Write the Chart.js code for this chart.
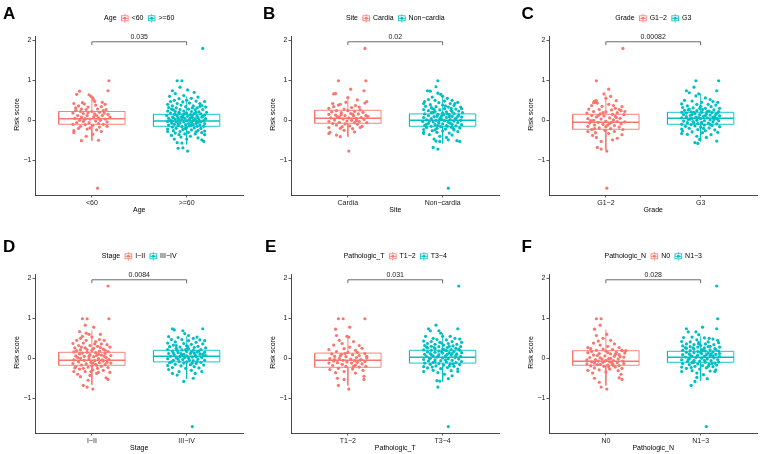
<!DOCTYPE html>
<html><head><meta charset="utf-8">
<script src="https://cdn.jsdelivr.net/npm/chart.js@4/dist/chart.umd.min.js"></script>
<style>
html,body{margin:0;padding:0;background:#fff;overflow:hidden;width:760px;height:454px;position:relative}
canvas{position:absolute}
</style></head><body>
<script>
// ---------------- DATA ----------------
// each point: [horizontal jitter within its group, risk score]
const yTicks = [-1, 0, 1, 2];

const ageCategories = ['<60', '>=60'];
const agePValue = '0.035';
const ageLow = [[0.18,0.99],[0.17,0.74],[-0.13,0.73],[-0.16,0.65],[-0.03,0.64],[0.01,0.56],[-0.01,0.6],[0.02,0.51],[-0.19,0.42],[0.11,0.45],[-0.08,0.41],[-0.1,0.44],[0.1,0.34],[-0.14,0.36],[0.04,0.38],[-0.04,0.33],[0.15,0.27],[-0.17,0.25],[-0.06,0.27],[0.06,0.28],[0.12,0.24],[-0.12,0.22],[0.0,0.22],[0.08,0.2],[-0.2,0.18],[-0.09,0.17],[0.03,0.16],[0.17,0.15],[-0.15,0.12],[-0.05,0.12],[0.11,0.12],[0.19,0.08],[-0.11,0.08],[0.02,0.09],[0.07,0.06],[-0.18,0.05],[-0.07,0.04],[0.14,0.03],[-0.02,0.03],[0.09,0.0],[-0.13,0.0],[0.04,-0.02],[-0.09,-0.03],[0.16,-0.04],[-0.16,-0.06],[-0.03,-0.06],[0.07,-0.08],[0.12,-0.1],[-0.2,-0.1],[-0.07,-0.11],[0.01,-0.13],[-0.12,-0.15],[0.08,-0.17],[-0.02,-0.19],[-0.19,-0.26],[-0.19,-0.31],[0.1,-0.28],[-0.05,-0.22],[0.05,-0.24],[-0.14,-0.2],[-0.11,-0.51],[0.07,-0.5],[0.01,-0.35],[-0.06,-0.4],[0.06,-1.7],[0.13,0.18],[-0.04,0.19],[0.05,0.12],[-0.17,0.31],[0.14,0.4],[-0.08,0.02],[0.16,-0.15],[0.03,0.47],[-0.11,0.28]];
const ageHigh = [[0.17,1.8],[-0.1,0.99],[-0.05,0.99],[-0.07,0.83],[0.01,0.76],[-0.15,0.74],[0.08,0.7],[-0.12,0.67],[-0.03,0.62],[0.12,0.58],[-0.18,0.6],[0.05,0.55],[-0.08,0.54],[0.19,0.47],[0.16,0.37],[-0.17,0.47],[0.0,0.5],[-0.13,0.5],[0.1,0.48],[-0.04,0.46],[-0.2,0.4],[-0.1,0.42],[0.03,0.43],[0.14,0.42],[-0.15,0.36],[-0.06,0.38],[0.07,0.36],[0.2,0.33],[-0.01,0.34],[-0.19,0.32],[0.11,0.31],[-0.11,0.31],[-0.16,0.28],[-0.07,0.27],[0.02,0.28],[0.09,0.26],[0.17,0.27],[-0.2,0.23],[-0.12,0.22],[-0.03,0.23],[0.05,0.22],[0.13,0.21],[0.21,0.2],[-0.17,0.18],[-0.08,0.17],[0.0,0.18],[0.08,0.17],[0.15,0.16],[-0.13,0.15],[-0.04,0.14],[0.04,0.14],[0.19,0.13],[-0.21,0.12],[-0.1,0.11],[0.01,0.1],[0.11,0.11],[-0.15,0.08],[-0.06,0.08],[0.06,0.07],[0.16,0.08],[-0.19,0.05],[-0.02,0.05],[0.09,0.04],[0.2,0.04],[-0.12,0.03],[0.03,0.02],[0.13,0.01],[-0.17,0.0],[-0.08,0.0],[0.0,-0.01],[0.07,0.0],[0.18,-0.01],[-0.14,0.06],[0.12,0.06],[-0.04,0.09],[-0.2,-0.03],[-0.11,-0.04],[-0.03,-0.04],[0.05,-0.05],[0.15,-0.04],[-0.16,-0.07],[-0.07,-0.07],[0.02,-0.08],[0.1,-0.08],[0.19,-0.08],[-0.13,-0.1],[-0.01,-0.11],[0.07,-0.11],[0.14,-0.12],[-0.19,-0.12],[-0.09,-0.13],[0.03,-0.14],[0.11,-0.15],[-0.05,-0.16],[0.18,-0.15],[-0.15,-0.17],[0.0,-0.18],[0.08,-0.19],[-0.11,-0.2],[0.15,-0.2],[-0.2,-0.22],[-0.04,-0.23],[0.05,-0.24],[0.12,-0.25],[-0.14,-0.26],[-0.2,-0.28],[0.19,-0.27],[-0.07,-0.28],[0.02,-0.3],[0.16,-0.31],[-0.12,-0.32],[-0.02,-0.34],[0.09,-0.34],[0.19,-0.36],[-0.16,-0.38],[0.04,-0.4],[-0.06,-0.42],[0.12,-0.44],[0.16,-0.49],[0.18,-0.53],[-0.1,-0.56],[-0.05,-0.57],[-0.09,-0.7],[-0.04,-0.69],[0.01,-0.77],[0.0,-0.47],[-0.13,-0.47],[-0.08,0.2],[0.1,0.2],[-0.02,0.16],[0.06,0.12],[-0.12,0.15],[0.17,0.1],[-0.09,0.05],[0.04,0.06],[-0.05,0.02],[0.1,-0.02],[-0.15,-0.02],[0.12,-0.06],[-0.09,-0.09],[0.05,-0.12],[-0.02,-0.21],[0.1,-0.29],[-0.08,-0.36],[0.14,0.35],[-0.14,0.26],[0.06,0.31]];
// box statistics: [lower whisker, Q1, median, Q3, upper whisker]
const ageLowBox = [-0.51, -0.10, 0.04, 0.22, 0.59];
const ageHighBox = [-0.60, -0.15, -0.02, 0.15, 0.60];

const siteCategories = ['Cardia', 'Non\u2212cardia'];
const sitePValue = '0.02';
const siteCardia = [[0.18,1.8],[-0.1,0.99],[0.19,0.99],[0.17,0.74],[0.03,0.78],[-0.13,0.67],[-0.15,0.66],[0.0,0.57],[0.1,0.51],[0.2,0.47],[0.18,0.43],[-0.08,0.4],[-0.1,0.38],[-0.15,0.34],[0.08,0.37],[-0.2,0.3],[0.04,0.32],[-0.04,0.28],[0.13,0.26],[-0.12,0.24],[0.0,0.24],[0.07,0.22],[-0.17,0.21],[0.16,0.2],[-0.07,0.19],[0.03,0.17],[0.11,0.16],[-0.2,0.15],[-0.13,0.13],[0.19,0.12],[-0.03,0.12],[0.06,0.11],[-0.09,0.08],[0.14,0.07],[0.01,0.06],[-0.18,0.06],[0.09,0.04],[-0.05,0.03],[0.17,0.02],[-0.14,0.01],[0.04,0.0],[-0.01,-0.02],[0.12,-0.03],[-0.2,-0.03],[-0.09,-0.05],[0.07,-0.06],[0.2,-0.06],[-0.16,-0.08],[-0.03,-0.09],[0.1,-0.1],[-0.12,-0.12],[0.02,-0.14],[0.15,-0.15],[-0.06,-0.16],[0.13,-0.18],[-0.2,-0.18],[-0.08,-0.2],[0.05,-0.21],[-0.19,-0.3],[-0.2,-0.33],[-0.12,-0.37],[-0.08,-0.41],[-0.04,-0.25],[0.07,-0.29],[0.01,-0.77],[-0.11,0.09],[0.05,0.15],[-0.02,0.45],[0.12,0.33],[-0.16,0.42],[0.09,-0.01],[-0.07,0.14],[0.21,0.1]];
const siteNonCardia = [[-0.05,0.99],[-0.07,0.84],[-0.16,0.74],[-0.13,0.73],[-0.05,0.68],[-0.02,0.65],[0.0,0.6],[0.05,0.55],[-0.11,0.58],[-0.19,0.47],[0.13,0.42],[0.19,0.33],[0.1,0.5],[-0.15,0.52],[-0.08,0.5],[0.02,0.48],[0.16,0.45],[-0.2,0.42],[-0.04,0.44],[0.08,0.42],[-0.13,0.39],[0.0,0.38],[0.12,0.37],[-0.18,0.35],[-0.07,0.34],[0.06,0.33],[0.2,0.29],[-0.11,0.3],[0.02,0.29],[0.14,0.28],[-0.2,0.27],[-0.03,0.26],[0.09,0.25],[-0.15,0.24],[0.17,0.23],[-0.08,0.22],[0.04,0.21],[0.21,0.19],[-0.12,0.19],[0.0,0.18],[0.12,0.17],[-0.19,0.16],[-0.05,0.15],[0.07,0.14],[0.17,0.13],[-0.15,0.12],[-0.01,0.11],[0.1,0.1],[-0.09,0.09],[0.2,0.08],[-0.2,0.07],[0.04,0.07],[0.14,0.05],[-0.12,0.04],[-0.03,0.04],[0.08,0.02],[-0.17,0.01],[0.19,0.0],[-0.07,0.0],[0.02,-0.01],[0.12,-0.02],[-0.21,-0.03],[-0.1,-0.04],[0.06,-0.05],[0.16,-0.06],[-0.04,-0.07],[-0.15,-0.08],[0.0,-0.09],[0.1,-0.1],[0.2,-0.11],[-0.08,-0.11],[-0.19,-0.13],[0.04,-0.13],[0.14,-0.14],[-0.12,-0.15],[-0.02,-0.16],[0.09,-0.17],[-0.17,-0.18],[0.18,-0.19],[-0.06,-0.2],[0.03,-0.22],[-0.2,-0.23],[0.12,-0.24],[-0.11,-0.26],[0.0,-0.27],[0.16,-0.28],[-0.2,-0.3],[-0.06,-0.3],[0.07,-0.32],[-0.2,-0.33],[-0.14,-0.36],[0.1,-0.37],[-0.03,-0.4],[0.04,-0.43],[-0.1,-0.68],[-0.05,-0.72],[-0.03,-0.53],[-0.07,-0.52],[0.06,-0.49],[0.15,-0.51],[0.18,-0.53],[-0.09,-0.47],[0.06,-1.7],[-0.06,0.1],[0.05,0.16],[-0.1,0.2],[0.1,0.22],[-0.02,0.06],[0.07,0.09],[-0.14,-0.02],[0.13,0.03],[-0.05,-0.13],[0.08,-0.07],[-0.09,0.27],[0.03,0.36],[-0.17,-0.1],[0.11,-0.2],[-0.01,0.02],[0.16,0.1],[-0.08,-0.24],[0.01,0.14],[-0.12,0.32],[0.09,0.3],[-0.04,-0.04],[0.05,-0.15]];
const siteCardiaBox = [-0.41, -0.075, 0.05, 0.25, 0.60];
const siteNonCardiaBox = [-0.58, -0.15, 0.0, 0.16, 0.60];

const gradeCategories = ['G1\u22122', 'G3'];
const gradePValue = '0.00082';
const gradeLow = [[0.18,1.8],[0.01,-1.7],[-0.1,0.99],[0.03,0.78],[-0.02,0.66],[-0.12,0.48],[-0.11,0.45],[-0.1,0.49],[-0.09,0.43],[-0.13,0.44],[0.11,0.49],[0.17,0.34],[0.0,0.55],[0.05,0.6],[-0.15,0.37],[0.03,0.4],[-0.04,0.35],[0.1,0.3],[-0.18,0.28],[-0.07,0.27],[0.06,0.26],[0.16,0.24],[-0.13,0.22],[0.0,0.21],[0.12,0.19],[-0.2,0.18],[-0.06,0.16],[0.07,0.15],[0.19,0.14],[-0.15,0.12],[-0.02,0.11],[0.1,0.1],[-0.1,0.08],[0.04,0.06],[0.15,0.05],[-0.19,0.04],[-0.05,0.03],[0.08,0.01],[-0.13,0.0],[0.0,-0.02],[0.12,-0.03],[0.2,-0.04],[-0.08,-0.05],[-0.17,-0.07],[0.04,-0.08],[0.16,-0.09],[-0.03,-0.1],[-0.12,-0.12],[0.09,-0.13],[-0.19,-0.15],[0.0,-0.16],[0.14,-0.17],[-0.07,-0.19],[0.05,-0.21],[-0.15,-0.23],[0.18,-0.23],[-0.01,-0.25],[-0.19,-0.28],[0.09,-0.28],[-0.11,-0.31],[0.03,-0.33],[0.17,-0.36],[-0.14,-0.38],[0.12,-0.45],[0.07,-0.49],[-0.05,-0.53],[-0.09,-0.68],[-0.05,-0.72],[0.01,-0.77],[-0.1,-0.43],[0.11,0.07],[-0.03,0.19],[0.06,-0.05],[-0.16,-0.01],[0.14,0.27],[-0.08,0.12],[0.02,-0.12],[0.2,0.22],[-0.12,-0.21],[0.08,0.37]];
const gradeHigh = [[-0.05,0.99],[0.19,0.99],[0.17,0.74],[-0.15,0.74],[-0.12,0.69],[-0.07,0.83],[-0.02,0.66],[-0.05,0.61],[0.1,0.52],[0.18,0.45],[0.05,0.56],[-0.17,0.5],[-0.09,0.48],[0.13,0.47],[0.01,0.45],[-0.2,0.41],[-0.04,0.4],[0.08,0.4],[0.16,0.38],[-0.14,0.36],[0.0,0.35],[0.11,0.34],[-0.19,0.32],[-0.08,0.31],[0.05,0.3],[0.2,0.3],[-0.12,0.28],[0.02,0.27],[0.14,0.26],[-0.17,0.25],[-0.04,0.24],[0.09,0.23],[0.19,0.22],[-0.1,0.21],[-0.2,0.2],[0.01,0.2],[0.12,0.19],[-0.15,0.18],[-0.06,0.17],[0.06,0.16],[0.16,0.15],[-0.18,0.14],[-0.01,0.14],[0.1,0.13],[-0.11,0.12],[0.2,0.11],[0.03,0.1],[-0.15,0.09],[-0.05,0.08],[0.13,0.08],[0.07,0.06],[-0.2,0.06],[-0.09,0.05],[0.17,0.04],[0.0,0.04],[-0.13,0.02],[0.1,0.01],[-0.04,0.0],[0.04,-0.01],[0.19,-0.01],[-0.18,-0.02],[-0.08,-0.03],[0.13,-0.04],[0.01,-0.05],[-0.14,-0.06],[0.08,-0.07],[-0.03,-0.08],[0.17,-0.09],[-0.2,-0.1],[-0.1,-0.11],[0.04,-0.12],[0.12,-0.13],[-0.06,-0.14],[-0.16,-0.15],[0.2,-0.16],[0.0,-0.17],[0.09,-0.19],[-0.12,-0.2],[-0.2,-0.22],[-0.03,-0.23],[0.15,-0.24],[0.05,-0.26],[-0.19,-0.27],[-0.09,-0.29],[0.18,-0.3],[0.02,-0.31],[-0.2,-0.33],[-0.14,-0.35],[0.11,-0.36],[-0.04,-0.4],[0.06,-0.43],[0.17,-0.52],[-0.06,-0.56],[-0.03,-0.58],[-0.01,-0.48],[-0.07,0.2],[0.07,0.22],[-0.02,0.07],[0.05,0.12],[-0.11,0.03],[0.15,0.09],[-0.07,-0.07],[0.1,-0.1],[-0.01,0.3],[0.03,-0.2],[-0.13,0.26],[0.14,0.02],[-0.09,0.14],[0.01,-0.08],[0.18,0.18]];
const gradeLowBox = [-0.74, -0.225, -0.05, 0.15, 0.63];
const gradeHighBox = [-0.53, -0.10, 0.05, 0.20, 0.67];

const stageCategories = ['I\u2212II', 'III\u2212IV'];
const stagePValue = '0.0084';
const stageEarly = [[0.17,1.81],[-0.1,0.99],[-0.05,0.99],[0.18,0.99],[0.02,0.78],[-0.07,0.83],[-0.13,0.67],[-0.1,0.55],[-0.03,0.6],[0.0,0.53],[-0.12,0.5],[-0.16,0.45],[0.08,0.47],[0.13,0.45],[-0.06,0.45],[0.04,0.42],[-0.2,0.37],[-0.09,0.38],[0.1,0.36],[0.16,0.34],[-0.14,0.32],[-0.02,0.32],[0.06,0.3],[0.19,0.28],[-0.18,0.26],[-0.07,0.26],[0.02,0.25],[0.12,0.23],[-0.12,0.21],[0.0,0.2],[0.08,0.18],[0.17,0.17],[-0.19,0.16],[-0.05,0.15],[0.04,0.14],[0.14,0.12],[-0.13,0.11],[-0.02,0.09],[0.1,0.08],[0.2,0.07],[-0.17,0.06],[-0.08,0.05],[0.02,0.04],[0.15,0.02],[-0.12,0.0],[0.07,-0.01],[-0.03,-0.02],[0.18,-0.03],[-0.19,-0.04],[-0.08,-0.05],[0.03,-0.06],[0.12,-0.07],[-0.14,-0.09],[-0.01,-0.1],[0.08,-0.11],[0.2,-0.12],[-0.2,-0.13],[-0.06,-0.14],[0.04,-0.15],[0.14,-0.16],[-0.11,-0.17],[0.0,-0.19],[0.1,-0.2],[-0.17,-0.21],[-0.04,-0.22],[0.17,-0.23],[0.06,-0.25],[-0.13,-0.27],[-0.19,-0.33],[0.01,-0.29],[0.12,-0.3],[-0.07,-0.33],[0.19,-0.35],[-0.15,-0.4],[0.05,-0.38],[-0.02,-0.43],[0.15,-0.49],[0.17,-0.53],[-0.12,-0.46],[-0.09,-0.68],[-0.05,-0.72],[0.01,-0.77],[-0.04,-0.55],[0.07,0.1],[-0.1,0.13],[0.11,-0.04],[-0.05,0.22],[0.05,-0.18],[-0.15,0.02],[0.14,0.2],[-0.09,-0.25],[0.03,0.36],[-0.11,0.28],[0.09,0.27],[-0.03,0.05],[0.01,-0.12],[0.16,-0.1],[-0.18,-0.24],[0.07,-0.35],[-0.06,0.63],[0.09,0.6],[0.13,0.05],[-0.16,0.19],[0.05,0.07],[-0.01,-0.33]];
const stageLate = [[0.06,-1.71],[-0.15,0.74],[-0.13,0.71],[-0.04,0.69],[-0.02,0.62],[0.17,0.74],[0.02,0.57],[-0.16,0.47],[0.19,0.44],[0.11,0.53],[0.07,0.5],[-0.09,0.52],[-0.19,0.54],[-0.05,0.47],[0.14,0.46],[0.02,0.44],[-0.12,0.41],[0.1,0.4],[-0.2,0.38],[-0.03,0.37],[0.17,0.36],[0.05,0.35],[-0.14,0.33],[0.0,0.31],[0.12,0.3],[-0.18,0.29],[-0.07,0.28],[0.08,0.27],[0.2,0.26],[-0.11,0.25],[0.02,0.24],[0.15,0.22],[-0.2,0.22],[-0.05,0.21],[0.07,0.2],[-0.15,0.18],[0.0,0.17],[0.11,0.16],[0.19,0.15],[-0.09,0.14],[-0.19,0.12],[0.04,0.12],[0.14,0.11],[-0.03,0.1],[-0.13,0.08],[0.09,0.08],[0.2,0.07],[0.0,0.06],[-0.17,0.05],[-0.07,0.04],[0.06,0.03],[0.16,0.02],[-0.11,0.01],[0.02,0.0],[-0.2,-0.01],[0.12,-0.02],[-0.04,-0.03],[0.19,-0.05],[-0.14,-0.05],[0.07,-0.06],[-0.08,-0.08],[0.0,-0.09],[0.15,-0.1],[-0.18,-0.11],[-0.03,-0.12],[0.1,-0.13],[-0.12,-0.15],[0.04,-0.16],[0.18,-0.17],[-0.2,-0.18],[-0.06,-0.19],[0.08,-0.21],[-0.15,-0.23],[0.13,-0.24],[-0.01,-0.25],[-0.19,-0.28],[0.16,-0.33],[-0.15,-0.38],[0.05,-0.3],[-0.08,-0.33],[0.09,-0.38],[0.07,-0.5],[-0.03,-0.58],[-0.1,-0.42],[-0.1,0.2],[0.05,0.16],[-0.05,0.08],[0.1,0.04],[-0.01,0.22],[0.13,0.18],[-0.09,-0.02],[0.03,-0.05],[-0.14,0.13],[0.17,0.1],[0.01,0.3],[-0.06,0.12],[0.08,0.13],[-0.16,-0.09],[0.11,-0.08],[-0.02,0.02],[0.06,-0.12],[-0.11,0.32]];
const stageEarlyBox = [-0.66, -0.175, -0.05, 0.15, 0.69];
const stageLateBox = [-0.51, -0.09, 0.05, 0.20, 0.55];

const tCategories = ['T1\u22122', 'T3\u22124'];
const tPValue = '0.031';
const tEarly = [[-0.1,0.99],[-0.05,0.99],[0.18,0.99],[0.02,0.78],[-0.13,0.73],[-0.12,0.57],[-0.01,0.55],[0.01,0.53],[-0.06,0.37],[0.12,0.32],[-0.15,0.33],[-0.09,0.45],[0.06,0.42],[0.15,0.25],[-0.2,0.22],[-0.04,0.24],[0.08,0.2],[-0.12,0.17],[0.0,0.15],[0.18,0.12],[-0.17,0.11],[-0.07,0.1],[0.05,0.09],[0.12,0.07],[-0.14,0.05],[-0.02,0.04],[0.09,0.02],[0.2,0.01],[-0.19,-0.01],[-0.09,-0.01],[0.03,-0.02],[0.14,-0.03],[-0.05,-0.05],[0.07,-0.06],[-0.15,-0.07],[0.18,-0.08],[-0.01,-0.09],[0.1,-0.1],[-0.11,-0.11],[-0.2,-0.12],[0.04,-0.12],[0.15,-0.14],[-0.06,-0.15],[0.08,-0.17],[-0.16,-0.18],[0.19,-0.2],[-0.02,-0.2],[0.12,-0.22],[-0.19,-0.28],[-0.1,-0.25],[0.05,-0.27],[0.16,-0.3],[-0.04,-0.33],[-0.13,-0.36],[0.08,-0.37],[0.17,-0.45],[0.17,-0.53],[-0.11,-0.5],[-0.04,-0.53],[-0.1,-0.68],[0.01,-0.77],[0.1,0.15],[-0.08,0.06],[0.02,0.28],[-0.14,-0.03],[0.13,-0.05],[0.06,-0.2],[-0.03,0.12],[0.2,0.05]];
const tLate = [[0.17,1.81],[0.06,-1.71],[-0.07,0.83],[-0.15,0.74],[-0.13,0.69],[-0.04,0.69],[0.16,0.74],[-0.02,0.63],[0.08,0.55],[0.18,0.48],[-0.18,0.55],[-0.1,0.5],[0.0,0.55],[0.13,0.5],[-0.06,0.47],[0.04,0.46],[-0.2,0.43],[-0.12,0.42],[0.1,0.42],[0.2,0.4],[-0.03,0.4],[-0.16,0.37],[0.06,0.37],[0.15,0.35],[-0.08,0.35],[0.01,0.33],[-0.19,0.32],[0.11,0.31],[-0.12,0.3],[0.19,0.29],[-0.04,0.29],[0.05,0.27],[-0.16,0.26],[0.14,0.25],[-0.08,0.24],[0.0,0.23],[0.09,0.22],[-0.2,0.21],[-0.12,0.2],[0.18,0.2],[0.04,0.19],[-0.04,0.18],[0.12,0.17],[-0.16,0.16],[-0.08,0.15],[0.07,0.14],[0.2,0.14],[0.0,0.13],[-0.13,0.12],[0.15,0.11],[-0.19,0.1],[-0.04,0.09],[0.09,0.08],[0.03,0.06],[-0.1,0.06],[0.19,0.05],[-0.17,0.04],[-0.06,0.03],[0.13,0.02],[0.0,0.01],[-0.13,0.0],[0.06,-0.01],[0.17,-0.02],[-0.2,-0.03],[-0.08,-0.04],[0.1,-0.05],[-0.02,-0.06],[-0.15,-0.07],[0.2,-0.08],[0.04,-0.09],[-0.1,-0.1],[0.14,-0.11],[-0.19,-0.12],[-0.04,-0.13],[0.08,-0.14],[-0.13,-0.15],[0.18,-0.16],[0.01,-0.17],[-0.07,-0.19],[0.12,-0.2],[-0.2,-0.21],[-0.16,-0.24],[0.05,-0.23],[-0.02,-0.26],[0.16,-0.27],[-0.2,-0.33],[-0.1,-0.3],[0.09,-0.31],[0.16,-0.33],[-0.05,-0.36],[0.02,-0.4],[0.06,-0.51],[-0.06,-0.56],[-0.03,-0.57],[-0.05,-0.72],[0.1,-0.44],[-0.09,0.27],[0.07,0.3],[-0.01,0.16],[0.1,0.12],[-0.12,0.09],[0.03,-0.04],[-0.05,0.05],[0.14,0.07],[-0.14,-0.02],[0.05,0.1],[-0.08,-0.09],[0.11,-0.14],[-0.01,0.38],[0.07,-0.19],[-0.17,0.28],[0.17,0.23],[0.02,0.21],[-0.11,-0.22]];
const tEarlyBox = [-0.68, -0.225, -0.05, 0.13, 0.55];
const tLateBox = [-0.58, -0.12, 0.025, 0.20, 0.63];

const nCategories = ['N0', 'N1\u22123'];
const nPValue = '0.028';
const nNeg = [[-0.1,0.99],[-0.05,0.99],[-0.06,0.83],[-0.12,0.73],[-0.1,0.57],[-0.08,0.43],[0.17,0.19],[0.21,0.19],[-0.19,0.27],[0.01,0.6],[-0.03,0.5],[0.05,0.45],[-0.13,0.38],[0.09,0.36],[-0.06,0.33],[0.02,0.3],[0.14,0.27],[-0.16,0.24],[-0.03,0.23],[0.07,0.22],[0.17,0.2],[-0.1,0.2],[0.0,0.18],[0.11,0.15],[-0.19,0.14],[-0.07,0.12],[0.05,0.11],[0.14,0.09],[-0.13,0.08],[-0.01,0.06],[0.09,0.05],[0.19,0.03],[-0.17,0.02],[-0.06,0.01],[0.03,-0.01],[0.13,-0.02],[-0.11,-0.03],[-0.2,-0.04],[0.0,-0.05],[0.08,-0.06],[0.18,-0.07],[-0.08,-0.07],[-0.15,-0.09],[0.04,-0.09],[0.12,-0.11],[-0.03,-0.1],[-0.12,-0.12],[0.19,-0.13],[-0.2,-0.14],[0.07,-0.14],[-0.06,-0.15],[0.02,-0.17],[0.14,-0.18],[-0.16,-0.19],[-0.02,-0.2],[0.1,-0.22],[-0.12,-0.24],[0.17,-0.25],[0.04,-0.27],[-0.07,-0.29],[-0.19,-0.3],[0.13,-0.31],[0.0,-0.34],[-0.14,-0.37],[0.16,-0.4],[0.14,-0.49],[0.17,-0.53],[-0.12,-0.5],[-0.05,-0.72],[0.01,-0.77],[-0.07,-0.6],[0.05,0.0],[-0.04,-0.02],[0.1,0.1],[-0.09,0.07],[0.02,0.14],[0.06,-0.1],[-0.01,-0.07],[0.15,0.04],[-0.15,0.17],[0.08,-0.18],[-0.09,-0.16],[0.03,-0.22],[0.2,0.13]];
const nPos = [[0.17,1.81],[0.06,-1.71],[0.18,0.99],[0.17,0.74],[0.02,0.78],[-0.15,0.74],[-0.13,0.66],[-0.05,0.66],[-0.02,0.59],[0.09,0.5],[0.18,0.45],[-0.18,0.52],[-0.09,0.53],[0.04,0.51],[0.13,0.48],[-0.04,0.46],[-0.2,0.42],[-0.11,0.41],[0.08,0.41],[0.19,0.39],[-0.02,0.39],[-0.15,0.36],[0.05,0.36],[0.14,0.34],[-0.07,0.34],[0.0,0.32],[-0.19,0.31],[0.1,0.3],[-0.11,0.29],[0.2,0.28],[-0.03,0.28],[0.04,0.26],[-0.15,0.25],[0.15,0.24],[-0.07,0.23],[0.01,0.22],[0.1,0.21],[-0.19,0.2],[-0.11,0.19],[0.19,0.18],[0.05,0.18],[-0.03,0.17],[0.13,0.16],[-0.15,0.15],[-0.07,0.14],[0.08,0.13],[0.2,0.12],[0.01,0.12],[-0.12,0.11],[0.16,0.1],[-0.19,0.09],[-0.03,0.08],[0.1,0.07],[0.04,0.05],[-0.09,0.05],[0.2,0.04],[-0.16,0.03],[-0.05,0.02],[0.14,0.01],[0.01,0.0],[-0.12,-0.01],[0.07,-0.02],[0.18,-0.03],[-0.2,-0.04],[-0.07,-0.05],[0.11,-0.06],[-0.01,-0.07],[-0.14,-0.08],[0.19,-0.09],[0.05,-0.1],[-0.09,-0.11],[0.15,-0.12],[-0.19,-0.13],[-0.03,-0.14],[0.09,-0.15],[-0.12,-0.16],[0.17,-0.17],[0.02,-0.18],[-0.06,-0.2],[0.13,-0.21],[-0.2,-0.22],[-0.15,-0.25],[0.06,-0.24],[-0.01,-0.27],[0.16,-0.29],[-0.2,-0.33],[-0.09,-0.31],[0.1,-0.32],[0.15,-0.33],[-0.04,-0.37],[0.03,-0.41],[0.07,-0.51],[-0.06,-0.58],[-0.04,-0.48],[-0.1,-0.68],[-0.08,0.26],[0.08,0.29],[0.0,0.15],[0.11,0.11],[-0.11,0.08],[0.04,-0.05],[-0.04,0.04],[0.13,0.06],[-0.13,-0.03],[0.06,0.09],[-0.07,-0.1],[0.12,-0.13],[-0.02,0.36],[0.08,-0.2],[-0.16,0.27],[0.16,0.22],[0.03,0.2],[-0.1,-0.23]];
const nNegBox = [-0.68, -0.175, -0.075, 0.19, 0.72];
const nPosBox = [-0.56, -0.10, 0.025, 0.175, 0.55];

// ---------------- PANELS ----------------
const panels = [
  {letter:'A', title:'Age', xTitle:'Age', cats:ageCategories, p:agePValue, g1:ageLow, g2:ageHigh, b1:ageLowBox, b2:ageHighBox},
  {letter:'B', title:'Site', xTitle:'Site', cats:siteCategories, p:sitePValue, g1:siteCardia, g2:siteNonCardia, b1:siteCardiaBox, b2:siteNonCardiaBox},
  {letter:'C', title:'Grade', xTitle:'Grade', cats:gradeCategories, p:gradePValue, g1:gradeLow, g2:gradeHigh, b1:gradeLowBox, b2:gradeHighBox},
  {letter:'D', title:'Stage', xTitle:'Stage', cats:stageCategories, p:stagePValue, g1:stageEarly, g2:stageLate, b1:stageEarlyBox, b2:stageLateBox},
  {letter:'E', title:'Pathologic_T', xTitle:'Pathologic_T', cats:tCategories, p:tPValue, g1:tEarly, g2:tLate, b1:tEarlyBox, b2:tLateBox},
  {letter:'F', title:'Pathologic_N', xTitle:'Pathologic_N', cats:nCategories, p:nPValue, g1:nNeg, g2:nPos, b1:nNegBox, b2:nPosBox}
];

// ---------------- STYLE / LAYOUT ----------------
const RED = '#F8766D', TEAL = '#00BFC4';
const FONT = "'Liberation Sans', Arial, sans-serif";
const colLeft = [0, 256, 514];
const rowTop = [0, 238];
const letterPos = [[3,18.5],[7,18.5],[7.5,18.5],[3,14],[9,14],[7.5,14]];
const CW = 246, CH = 217, YW = 35, PLOTW = 208.5, PTOP = 36, XH = 22;
const BOXW = 0.35;

Chart.defaults.font.family = FONT;
Chart.defaults.font.size = 7;
Chart.defaults.color = '#222';

function boxData(c, b) {
  const [lo, q1, med, q3, hi] = b;
  return [
    {x:c-BOXW,y:q1},{x:c+BOXW,y:q1},{x:c+BOXW,y:q3},{x:c-BOXW,y:q3},{x:c-BOXW,y:q1},
    {x:c,y:null},
    {x:c,y:q3},{x:c,y:hi},
    {x:c,y:null},
    {x:c,y:q1},{x:c,y:lo}
  ];
}
function medData(c, b) { return [{x:c-BOXW,y:b[2]},{x:c+BOXW,y:b[2]}]; }
function pts(c, arr) { return arr.map(d => ({x:c + d[0], y:d[1]})); }

function drawKey(ctx, x, cy, color) {
  const s = 8.5;
  ctx.strokeStyle = color; ctx.fillStyle = color; ctx.lineWidth = 0.8;
  ctx.strokeRect(x+0.9, cy-2.5, s-1.8, 5);
  ctx.beginPath();
  ctx.moveTo(x+0.9, cy); ctx.lineTo(x+s-0.9, cy);
  ctx.moveTo(x+s/2, cy-4.2); ctx.lineTo(x+s/2, cy-2.5);
  ctx.moveTo(x+s/2, cy+2.5); ctx.lineTo(x+s/2, cy+4.2);
  ctx.stroke();
  ctx.beginPath(); ctx.arc(x+s/2, cy, 1.5, 0, Math.PI*2); ctx.fill();
}

const decor = {
  id: 'decor',
  afterDatasetsDraw(chart, args, o) {
    const ctx = chart.ctx, ca = chart.chartArea, xs = chart.scales.x, ys = chart.scales.y;
    ctx.save();
    // panel letter
    ctx.fillStyle = '#000'; ctx.textAlign = 'left'; ctx.textBaseline = 'alphabetic';
    ctx.font = "bold 17px " + FONT;
    ctx.fillText(o.letter, o.lx, o.ly);
    // legend
    ctx.font = "7px " + FONT;
    const key = 8.5, g1 = 4, g2 = 2.5, g3 = 4;
    const wT = ctx.measureText(o.title).width, w0 = ctx.measureText(o.cats[0]).width, w1 = ctx.measureText(o.cats[1]).width;
    const total = wT + g1 + key + g2 + w0 + g3 + key + g2 + w1;
    let x = (ca.left + ca.right) / 2 - total / 2;
    const cy = 18.3;
    ctx.textBaseline = 'middle'; ctx.fillStyle = '#000';
    ctx.fillText(o.title, x, cy); x += wT + g1;
    drawKey(ctx, x, cy, RED); x += key + g2;
    ctx.fillStyle = '#000'; ctx.fillText(o.cats[0], x, cy); x += w0 + g3;
    drawKey(ctx, x, cy, TEAL); x += key + g2;
    ctx.fillStyle = '#000'; ctx.fillText(o.cats[1], x, cy);
    // comparison bracket
    const x1 = xs.getPixelForValue(1), x2 = xs.getPixelForValue(2);
    const yb = ys.getPixelForValue(1.965), yt = ys.getPixelForValue(1.88);
    ctx.strokeStyle = '#444'; ctx.lineWidth = 0.8;
    ctx.beginPath(); ctx.moveTo(x1, yt); ctx.lineTo(x1, yb); ctx.lineTo(x2, yb); ctx.lineTo(x2, yt); ctx.stroke();
    ctx.fillStyle = '#222'; ctx.textAlign = 'center'; ctx.textBaseline = 'middle';
    ctx.fillText(o.p, (x1 + x2) / 2, yb - 5);
    // axis titles
    ctx.fillStyle = '#000';
    ctx.fillText(o.xTitle, (ca.left + ca.right) / 2, 210);
    ctx.translate(ca.left - 17.5, (ca.top + ca.bottom) / 2 - 1);
    ctx.rotate(-Math.PI / 2);
    ctx.fillText('Risk score', 0, 0);
    ctx.restore();
  }
};

panels.forEach((p, i) => {
  const cv = document.createElement('canvas');
  cv.width = CW; cv.height = CH;
  cv.style.left = colLeft[i % 3] + 'px';
  cv.style.top = rowTop[Math.floor(i / 3)] + 'px';
  cv.style.width = CW + 'px'; cv.style.height = CH + 'px';
  document.body.appendChild(cv);
  const lineDs = (data, color, w) => ({type:'scatter', data, showLine:true, spanGaps:false, borderColor:color, borderWidth:w, pointRadius:0, pointHoverRadius:0, fill:false, borderJoinStyle:'miter', borderCapStyle:'butt', order:2});
  const ptDs = (data, color) => ({type:'scatter', data, backgroundColor:color, borderWidth:0, pointRadius:1.6, pointHoverRadius:1.6, order:1});
  new Chart(cv, {
    type: 'scatter',
    data: { datasets: [
      lineDs(boxData(1, p.b1), RED, 0.9), lineDs(medData(1, p.b1), RED, 1.5),
      lineDs(boxData(2, p.b2), TEAL, 0.9), lineDs(medData(2, p.b2), TEAL, 1.5),
      ptDs(pts(1, p.g1), RED), ptDs(pts(2, p.g2), TEAL)
    ]},
    options: {
      responsive: false, animation: false, devicePixelRatio: 1, events: [],
      layout: { padding: { left: 0, top: PTOP, right: CW - YW - PLOTW, bottom: 0 } },
      plugins: { legend: {display:false}, tooltip: {enabled:false},
        decor: { letter:p.letter, lx:letterPos[i][0], ly:letterPos[i][1], title:p.title, cats:p.cats, p:p.p, xTitle:p.xTitle } },
      scales: {
        x: { type:'linear', min:0.4, max:2.6,
          afterBuildTicks: s => { s.ticks = [{value:1},{value:2}]; },
          afterFit: s => { s.height = XH; },
          ticks: { callback: (v, idx) => p.cats[idx], maxRotation:0, autoSkip:false, padding:1, color:'#222', font:{size:7} },
          grid: { display:true, drawOnChartArea:false, drawTicks:true, tickLength:2.5, tickColor:'#333', tickWidth:0.8 },
          border: { display:true, color:'#333', width:0.9 } },
        y: { type:'linear', min:-1.87, max:2.11,
          afterBuildTicks: s => { s.ticks = yTicks.map(v => ({value:v})); },
          afterFit: s => { s.width = YW; },
          ticks: { callback: v => v < 0 ? '\u2212' + Math.abs(v) : String(v), padding:1, color:'#222', font:{size:7} },
          grid: { display:true, drawOnChartArea:false, drawTicks:true, tickLength:2.5, tickColor:'#333', tickWidth:0.8 },
          border: { display:true, color:'#333', width:0.9 } }
      }
    },
    plugins: [decor]
  });
});
</script>
</body></html>
